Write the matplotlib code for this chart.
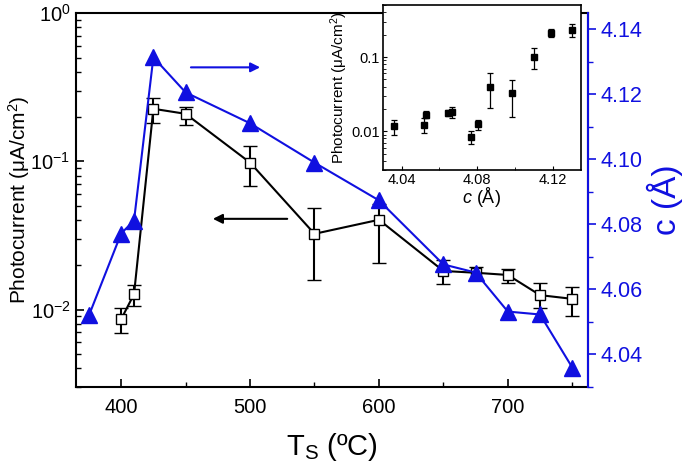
import matplotlib
matplotlib.use("Agg")
import matplotlib.pyplot as plt
from matplotlib.ticker import MultipleLocator, NullFormatter, FormatStrFormatter, LogLocator

plt.rcParams["font.family"] = ["Liberation Sans", "DejaVu Sans"]
plt.rcParams["mathtext.fontset"] = "custom"
plt.rcParams["mathtext.rm"] = "Liberation Sans"
plt.rcParams["mathtext.it"] = "Liberation Sans:italic"

# --- основний графік: фотострум від температури ---
ts = [400, 410, 425, 450, 500, 550, 600, 650, 675, 700, 725, 750]
photo = [0.0086, 0.0127, 0.226, 0.209, 0.098, 0.0324, 0.0403, 0.0182, 0.0177, 0.0171, 0.0125, 0.0118]
photo_hi = [0.0102, 0.0146, 0.268, 0.233, 0.127, 0.0485, 0.0516, 0.0216, 0.0194, 0.0188, 0.0151, 0.0142]
photo_lo = [0.0069, 0.0106, 0.182, 0.177, 0.068, 0.0158, 0.0206, 0.0149, 0.0158, 0.0151, 0.0102, 0.0090]

# --- параметр гратки c від температури ---
ts_c = [375, 400, 410, 425, 450, 500, 550, 600, 650, 675, 700, 725, 750]
c_val = [4.052, 4.0772, 4.0812, 4.1314, 4.1206, 4.1111, 4.099, 4.0874, 4.0677, 4.0652, 4.0532, 4.0523, 4.036]

# --- вставка: фотострум від c ---
c_ins = [4.0358, 4.0517, 4.0530, 4.0647, 4.0667, 4.0766, 4.0805, 4.0867, 4.0986, 4.1104, 4.1193, 4.1301]
p_ins = [0.0116, 0.0122, 0.0168, 0.0177, 0.0182, 0.00836, 0.0125, 0.040, 0.0325, 0.100, 0.213, 0.234]
p_ins_hi = [0.0144, 0.0149, 0.0186, 0.0192, 0.0215, 0.0101, 0.0144, 0.061, 0.0494, 0.1315, 0.242, 0.281]
p_ins_lo = [0.0090, 0.0094, 0.0151, 0.0162, 0.0151, 0.0068, 0.0104, 0.0206, 0.0156, 0.070, 0.184, 0.188]

BLUE = "#1010e0"

fig = plt.figure(figsize=(6.85, 4.66), dpi=100)
ax = fig.add_axes([0.111, 0.1695, 0.747, 0.8025])

yerr = [[p - l for p, l in zip(photo, photo_lo)], [h - p for p, h in zip(photo, photo_hi)]]
ax.errorbar(ts, photo, yerr=yerr, color="black", lw=1.5, capsize=5, capthick=1.5,
            marker="s", ms=7, mfc="white", mec="black", mew=1.0, zorder=3)
ax.set_yscale("log")
ax.set_ylim(0.003, 1)
ax.set_xlim(365, 762)
ax.xaxis.set_major_locator(MultipleLocator(100))
ax.xaxis.set_minor_locator(MultipleLocator(50))
ax.yaxis.set_minor_locator(LogLocator(base=10, subs=range(2, 10)))
ax.yaxis.set_minor_formatter(NullFormatter())
ax.tick_params(which="both", direction="in", right=False, top=False)
ax.tick_params(axis="x", labelsize=14.5, pad=8)
ax.tick_params(axis="y", labelsize=14.5, pad=4)
ax.tick_params(which="major", length=6, width=1.2)
ax.tick_params(which="minor", length=3.5, width=1.0)
for s in ax.spines.values():
    s.set_linewidth(1.5)
ax.set_xlabel("T$_\\mathregular{S}$ (ºC)", fontsize=21, labelpad=10)
ax.set_ylabel("Photocurrent (μA/cm$^2$)", fontsize=15, labelpad=-1)

ax.annotate("", xy=(469, 0.0409), xytext=(531, 0.0409),
            arrowprops=dict(arrowstyle="-|>", color="black", lw=1.5, mutation_scale=14))

ax2 = ax.twinx()
ax2.plot(ts_c, c_val, color=BLUE, lw=1.5, marker="^", ms=11, mfc=BLUE, mec=BLUE, zorder=4)
ax2.set_ylim(4.03, 4.145)
ax2.yaxis.set_major_locator(MultipleLocator(0.02))
ax2.yaxis.set_minor_locator(MultipleLocator(0.01))
ax2.yaxis.set_major_formatter(FormatStrFormatter("%.2f"))
ax2.tick_params(which="both", direction="out", colors=BLUE, labelsize=15.5)
ax2.tick_params(which="major", length=6, width=1.2)
ax2.tick_params(which="minor", length=3.5, width=1.0)
for name in ["top", "left", "bottom"]:
    ax2.spines[name].set_visible(False)
ax2.spines["right"].set_color(BLUE)
ax2.spines["right"].set_linewidth(1.5)
ax2.set_ylabel("c (Å)", fontsize=24, color=BLUE, rotation=90, labelpad=3)
ax2.annotate("", xy=(510, 4.1283), xytext=(452, 4.1283),
             arrowprops=dict(arrowstyle="-|>", color=BLUE, lw=1.5, mutation_scale=14))

# вставка
axi = fig.add_axes([0.559, 0.635, 0.289, 0.354])
yerr_i = [[p - l for p, l in zip(p_ins, p_ins_lo)], [h - p for p, h in zip(p_ins, p_ins_hi)]]
axi.errorbar(c_ins, p_ins, yerr=yerr_i, fmt="s", color="black", ms=4, lw=0.9,
             capsize=2.5, capthick=0.9, elinewidth=0.9)
axi.set_yscale("log")
axi.set_ylim(0.003, 0.5)
axi.set_xlim(4.03, 4.135)
axi.xaxis.set_major_locator(MultipleLocator(0.04))
axi.xaxis.set_minor_locator(MultipleLocator(0.02))
axi.xaxis.set_major_formatter(FormatStrFormatter("%.2f"))
axi.yaxis.set_major_formatter(FormatStrFormatter("%g"))
axi.yaxis.set_minor_locator(LogLocator(base=10, subs=range(2, 10)))
axi.yaxis.set_minor_formatter(NullFormatter())
axi.tick_params(which="both", direction="in", labelsize=10.5, pad=2)
axi.tick_params(which="major", length=3)
axi.tick_params(which="minor", length=2)
for s in axi.spines.values():
    s.set_linewidth(1.2)
axi.set_xlabel("$\\mathit{c}$ (Å)", fontsize=13, labelpad=-1)
axi.set_ylabel("Photocurrent (μA/cm$^2$)", fontsize=11, labelpad=1)

fig.savefig("out.png", dpi=100)
